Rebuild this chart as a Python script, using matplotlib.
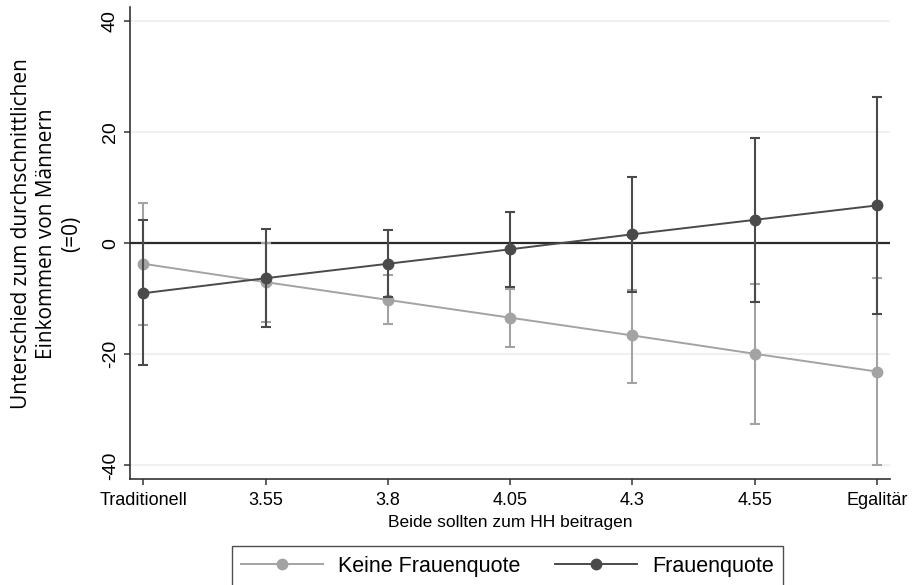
import matplotlib.pyplot as plt
import numpy as np

# x-Positionen und Beschriftungen
x_werte = [3.3, 3.55, 3.8, 4.05, 4.3, 4.55, 4.8]
x_labels = ["Traditionell", "3.55", "3.8", "4.05", "4.3", "4.55", "Egalitär"]

# Keine Frauenquote (hellgrau)
keine_y = [-3.7, -7.0, -10.2, -13.4, -16.6, -19.9, -23.1]
keine_lo = [-14.8, -14.2, -14.6, -18.6, -25.2, -32.6, -40.0]
keine_hi = [7.3, 0.1, -5.8, -8.2, -8.5, -7.3, -6.3]

# Frauenquote (dunkelgrau)
quote_y = [-9.0, -6.3, -3.7, -1.1, 1.6, 4.2, 6.8]
quote_lo = [-22.0, -15.1, -9.7, -7.8, -8.8, -10.6, -12.7]
quote_hi = [4.1, 2.5, 2.3, 5.7, 11.9, 19.0, 26.3]

hell = "#a3a3a3"
dunkel = "#4a4a4a"

fig = plt.figure(figsize=(9.13, 5.85), dpi=100)
ax = fig.add_axes([0.1424, 0.181, 0.975 - 0.1424, 0.988 - 0.181])

# Gitterlinien
for g in [-40, -20, 20, 40]:
    ax.axhline(g, color="#eeeeee", lw=1.2, zorder=0)
ax.axhline(0, color="#2b2b2b", lw=1.6, zorder=1)

def zeichne(y, lo, hi, farbe, name, z):
    y = np.array(y)
    err = [y - np.array(lo), np.array(hi) - y]
    ax.errorbar(x_werte, y, yerr=err, fmt="none", ecolor=farbe, elinewidth=1.5,
                capsize=3.8, capthick=1.5, zorder=z)
    ax.plot(x_werte, y, color=farbe, lw=1.4, marker="o", markersize=7.5,
            label=name, zorder=z + 1)

zeichne(keine_y, keine_lo, keine_hi, hell, "Keine Frauenquote", 2)
zeichne(quote_y, quote_lo, quote_hi, dunkel, "Frauenquote", 4)

ax.set_xlim(3.273, 4.827)
ax.set_ylim(-42.45, 42.5)
ax.set_xticks(x_werte)
ax.set_xticklabels(x_labels, fontsize=13, family="Liberation Sans")
ax.set_yticks([-40, -20, 0, 20, 40])
ax.set_yticklabels(["-40", "-20", "0", "20", "40"], fontsize=14, family="Liberation Sans",
                   rotation=90, va="center")
ax.tick_params(direction="out", length=4.5, width=1.1, color="#333333")
ax.tick_params(axis="x", pad=5)
for s in ["top", "right"]:
    ax.spines[s].set_visible(False)
for s in ["left", "bottom"]:
    ax.spines[s].set_color("#333333")
    ax.spines[s].set_linewidth(1.2)

ax.set_xlabel("Beide sollten zum HH beitragen", fontsize=12.5, family="Liberation Sans",
              labelpad=4)
ax.set_ylabel("Unterschied zum durchschnittlichen\nEinkommen von Männern\n(=0)",
              fontsize=15, family="Open Sans", linespacing=1.25)
ax.yaxis.set_label_coords(-0.063, 0.52)

leg = fig.legend(loc="upper center", bbox_to_anchor=(0.556, 1 - 546 / 585), ncol=2,
                 prop={"family": "Liberation Sans", "size": 15.5}, frameon=True,
                 fancybox=False, edgecolor="#222222", handlelength=3.8,
                 handletextpad=0.7, columnspacing=1.6, borderpad=0.45,
                 borderaxespad=0)
leg.get_frame().set_linewidth(1.0)

fig.savefig("out.png", dpi=100)
